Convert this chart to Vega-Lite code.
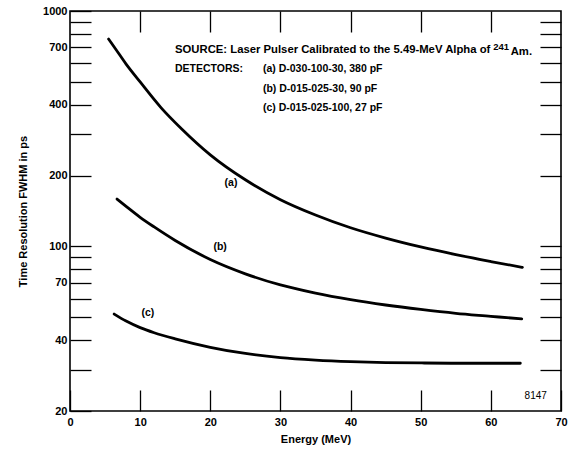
{
  "$schema": "https://vega.github.io/schema/vega-lite/v6.json",
  "width": 491,
  "height": 400,
  "autosize": "none",
  "padding": {"left": 70, "top": 11, "right": 18, "bottom": 41},
  "background": "white",
  "config": {
    "view": {"stroke": "black", "strokeWidth": 1.6},
    "axis": {
      "grid": false,
      "domain": false,
      "labelFont": "Liberation Sans",
      "labelFontSize": 11,
      "labelFontWeight": "bold",
      "labelColor": "black",
      "titleFont": "Liberation Sans",
      "titleFontSize": 11,
      "titleFontWeight": "bold",
      "titleColor": "black",
      "tickColor": "black",
      "tickWidth": 1.3,
      "tickSize": -21
    },
    "text": {"font": "Liberation Sans", "fontWeight": "bold", "fontSize": 10.5, "color": "black"}
  },
  "datasets": {
    "curves": [
      {"energy": 5.5, "fwhm": 760, "detector": "a"},
      {"energy": 6.5, "fwhm": 690, "detector": "a"},
      {"energy": 8, "fwhm": 595, "detector": "a"},
      {"energy": 10, "fwhm": 500, "detector": "a"},
      {"energy": 13, "fwhm": 388, "detector": "a"},
      {"energy": 16, "fwhm": 314, "detector": "a"},
      {"energy": 20, "fwhm": 245, "detector": "a"},
      {"energy": 25, "fwhm": 192, "detector": "a"},
      {"energy": 30, "fwhm": 158, "detector": "a"},
      {"energy": 35, "fwhm": 136, "detector": "a"},
      {"energy": 40, "fwhm": 120, "detector": "a"},
      {"energy": 45, "fwhm": 108.5, "detector": "a"},
      {"energy": 50, "fwhm": 99.5, "detector": "a"},
      {"energy": 55, "fwhm": 92.3, "detector": "a"},
      {"energy": 60, "fwhm": 86.3, "detector": "a"},
      {"energy": 64.5, "fwhm": 81.5, "detector": "a"},
      {"energy": 6.7, "fwhm": 159, "detector": "b"},
      {"energy": 8, "fwhm": 148, "detector": "b"},
      {"energy": 10, "fwhm": 133, "detector": "b"},
      {"energy": 12, "fwhm": 121, "detector": "b"},
      {"energy": 15, "fwhm": 106, "detector": "b"},
      {"energy": 20, "fwhm": 88, "detector": "b"},
      {"energy": 25, "fwhm": 76.5, "detector": "b"},
      {"energy": 30, "fwhm": 68.6, "detector": "b"},
      {"energy": 35, "fwhm": 63.3, "detector": "b"},
      {"energy": 40, "fwhm": 59.4, "detector": "b"},
      {"energy": 45, "fwhm": 56.4, "detector": "b"},
      {"energy": 50, "fwhm": 54, "detector": "b"},
      {"energy": 55, "fwhm": 52, "detector": "b"},
      {"energy": 60, "fwhm": 50.5, "detector": "b"},
      {"energy": 64.4, "fwhm": 49.2, "detector": "b"},
      {"energy": 6.3, "fwhm": 51.6, "detector": "c"},
      {"energy": 8, "fwhm": 48.2, "detector": "c"},
      {"energy": 10, "fwhm": 45.2, "detector": "c"},
      {"energy": 12, "fwhm": 43, "detector": "c"},
      {"energy": 15, "fwhm": 40.5, "detector": "c"},
      {"energy": 20, "fwhm": 37.3, "detector": "c"},
      {"energy": 25, "fwhm": 35.1, "detector": "c"},
      {"energy": 30, "fwhm": 33.7, "detector": "c"},
      {"energy": 35, "fwhm": 32.9, "detector": "c"},
      {"energy": 40, "fwhm": 32.4, "detector": "c"},
      {"energy": 45, "fwhm": 32.1, "detector": "c"},
      {"energy": 50, "fwhm": 32, "detector": "c"},
      {"energy": 55, "fwhm": 31.9, "detector": "c"},
      {"energy": 60, "fwhm": 31.9, "detector": "c"},
      {"energy": 64.2, "fwhm": 31.9, "detector": "c"}
    ],
    "source": [
      {"energy": 14.97, "fwhm": 680, "note": "SOURCE:  Laser Pulser Calibrated to the 5.49-MeV Alpha of"}
    ],
    "notes": [
      {"energy": 14.97, "fwhm": 567, "note": "DETECTORS:", "kind": "left"},
      {"energy": 27.5, "fwhm": 567, "note": "(a) D-030-100-30, 380 pF", "kind": "left"},
      {"energy": 27.5, "fwhm": 466, "note": "(b) D-015-025-30,  90 pF", "kind": "left"},
      {"energy": 27.5, "fwhm": 387, "note": "(c) D-015-025-100, 27 pF", "kind": "left"},
      {"energy": 65.87, "fwhm": 667, "note": "Am.", "kind": "right"},
      {"energy": 22.95, "fwhm": 186, "note": "(a)", "kind": "center"},
      {"energy": 21.4, "fwhm": 99.4, "note": "(b)", "kind": "center"},
      {"energy": 11.1, "fwhm": 52.1, "note": "(c)", "kind": "center"}
    ],
    "sup": [
      {"energy": 62.6, "fwhm": 702, "note": "241"}
    ],
    "code": [
      {"energy": 66.4, "fwhm": 23.1, "note": "8147"}
    ]
  },
  "layer": [
    {
      "data": {"name": "curves"},
      "mark": {"type": "line", "color": "black", "strokeWidth": 2.8, "interpolate": "monotone", "strokeCap": "round"},
      "encoding": {
        "x": {
          "field": "energy", "type": "quantitative",
          "scale": {"domain": [0, 70], "nice": false, "zero": false},
          "axis": {"orient": "bottom", "values": [0, 10, 20, 30, 40, 50, 60, 70], "title": "Energy (MeV)", "labelPadding": 26, "titlePadding": 6, "labelFlush": false}
        },
        "y": {
          "field": "fwhm", "type": "quantitative",
          "scale": {"type": "log", "domain": [20, 1000], "nice": false},
          "axis": {
            "orient": "left",
            "values": [20, 30, 40, 50, 60, 70, 80, 90, 100, 200, 300, 400, 500, 600, 700, 800, 900, 1000],
            "labelExpr": "indexof([20, 40, 70, 100, 200, 400, 700, 1000], datum.value) >= 0 ? datum.value : ''",
            "title": "Time Resolution FWHM in ps",
            "labelPadding": 24,
            "titlePadding": 14
          }
        },
        "detail": {"field": "detector", "type": "nominal"}
      }
    },
    {
      "data": {"name": "curves"},
      "mark": {"type": "line", "opacity": 0},
      "encoding": {
        "x": {"field": "energy", "type": "quantitative", "axis": {"orient": "top", "values": [10, 20, 30, 40, 50, 60], "labels": false, "title": null}},
        "y": {"field": "fwhm", "type": "quantitative", "axis": {"orient": "right", "values": [30, 40, 50, 60, 70, 80, 90, 100, 200, 300, 400, 500, 600, 700, 800, 900], "labels": false, "title": null}},
        "detail": {"field": "detector", "type": "nominal"}
      }
    },
    {
      "data": {"name": "source"},
      "mark": {"type": "text", "align": "left", "baseline": "middle", "fontSize": 11.3},
      "encoding": {
        "x": {"field": "energy", "type": "quantitative", "axis": null},
        "y": {"field": "fwhm", "type": "quantitative", "axis": null},
        "text": {"field": "note"}
      }
    },
    {
      "data": {"name": "notes"},
      "transform": [{"filter": "datum.kind == 'left'"}],
      "mark": {"type": "text", "align": "left", "baseline": "middle"},
      "encoding": {
        "x": {"field": "energy", "type": "quantitative", "axis": null},
        "y": {"field": "fwhm", "type": "quantitative", "axis": null},
        "text": {"field": "note"}
      }
    },
    {
      "data": {"name": "notes"},
      "transform": [{"filter": "datum.kind == 'right'"}],
      "mark": {"type": "text", "align": "right", "baseline": "middle", "fontSize": 11.3},
      "encoding": {
        "x": {"field": "energy", "type": "quantitative", "axis": null},
        "y": {"field": "fwhm", "type": "quantitative", "axis": null},
        "text": {"field": "note"}
      }
    },
    {
      "data": {"name": "notes"},
      "transform": [{"filter": "datum.kind == 'center'"}],
      "mark": {"type": "text", "align": "center", "baseline": "middle"},
      "encoding": {
        "x": {"field": "energy", "type": "quantitative", "axis": null},
        "y": {"field": "fwhm", "type": "quantitative", "axis": null},
        "text": {"field": "note"}
      }
    },
    {
      "data": {"name": "sup"},
      "mark": {"type": "text", "align": "right", "baseline": "middle", "fontSize": 9.5},
      "encoding": {
        "x": {"field": "energy", "type": "quantitative", "axis": null},
        "y": {"field": "fwhm", "type": "quantitative", "axis": null},
        "text": {"field": "note"}
      }
    },
    {
      "data": {"name": "code"},
      "mark": {"type": "text", "align": "center", "baseline": "middle", "fontSize": 10, "fontWeight": "normal"},
      "encoding": {
        "x": {"field": "energy", "type": "quantitative", "axis": null},
        "y": {"field": "fwhm", "type": "quantitative", "axis": null},
        "text": {"field": "note"}
      }
    }
  ]
}
